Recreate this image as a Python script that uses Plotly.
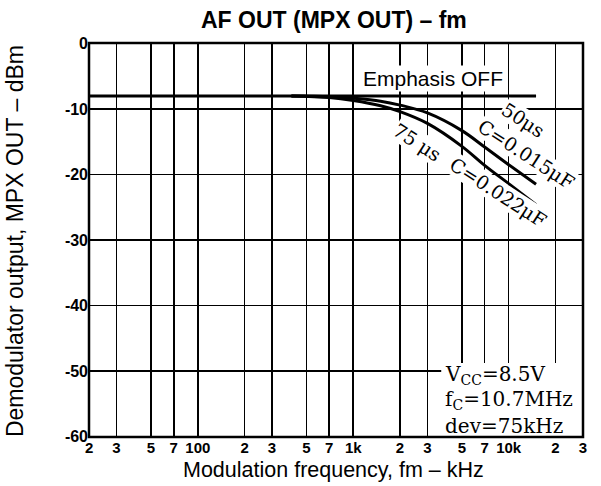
import math
import plotly.graph_objects as go

# ---------------- data ----------------
freq_off = [20, 15000]
db_off = [-8, -8]

freq_curve = [400, 700, 1000, 1500, 2000, 3000, 5000, 7000, 10000, 15000]
db_50us = [-8.0, -8.1, -8.35, -8.8, -9.4, -10.6, -13.3, -15.8, -18.5, -21.5]
db_75us = [-8.0, -8.25, -8.7, -9.5, -10.4, -12.2, -15.7, -18.6, -21.4, -24.6]

x_tickvals = [20, 30, 50, 70, 100, 200, 300, 500, 700, 1000,
              2000, 3000, 5000, 7000, 10000, 20000, 30000]
x_ticktext = ["2", "3", "5", "7", "100", "2", "3", "5", "7", "1k",
              "2", "3", "5", "7", "10k", "2", "3"]
y_tickvals = [0, -10, -20, -30, -40, -50, -60]
y_ticktext = ["0", "-10", "-20", "-30", "-40", "-50", "-60"]

title_text = "AF OUT (MPX OUT) – fm"
x_title = "Modulation frequency, fm – kHz"
y_title = "Demodulator output, MPX OUT – dBm"
cond_lines = ["V<sub>CC</sub>=8.5V", "f<sub>C</sub>=10.7MHz", "dev=75kHz"]

# ---------------- figure ----------------
fig = go.Figure()
fig.add_trace(go.Scatter(x=freq_off, y=db_off, mode="lines",
                         line=dict(color="black", width=3),
                         showlegend=False, hoverinfo="skip"))
fig.add_trace(go.Scatter(x=freq_curve, y=db_50us, mode="lines",
                         line=dict(color="black", width=3, shape="spline"),
                         showlegend=False, hoverinfo="skip"))
fig.add_trace(go.Scatter(x=freq_curve, y=db_75us, mode="lines",
                         line=dict(color="black", width=3, shape="spline"),
                         showlegend=False, hoverinfo="skip"))

sans = "Liberation Sans, Arial"
tickfont = dict(family=sans, size=15, color="black", weight="bold")
fig.update_xaxes(type="log",
                 range=[math.log10(20) - 0.001, math.log10(30000) + 0.001],
                 tickmode="array", tickvals=x_tickvals, ticktext=x_ticktext,
                 showgrid=True, gridcolor="black", gridwidth=1.6,
                 ticks="", tickfont=tickfont, zeroline=False, showline=False)
fig.update_yaxes(range=[-60.08, 0.08],
                 tickmode="array", tickvals=y_tickvals, ticktext=y_ticktext,
                 showgrid=True, gridcolor="black", gridwidth=1.6,
                 ticks="", tickfont=dict(family=sans, size=16, color="black", weight="bold"),
                 zeroline=False, showline=False)

shapes = [
    # white box behind the conditions text
    dict(type="rect", xref="x domain", yref="y domain", x0=0.713, x1=1.0,
         y0=0.0, y1=0.188, fillcolor="white", line=dict(width=0), layer="above"),
    # plot border
    dict(type="rect", xref="x domain", yref="y domain", x0=0, x1=1, y0=0, y1=1,
         line=dict(color="black", width=2.5), layer="above"),
]
fig.update_layout(shapes=shapes)

serif = "DejaVu Serif"
ann = []
ann.append(dict(x=math.log10(3260), y=-5.3, xref="x", yref="y", text="Emphasis OFF",
                xanchor="center", yanchor="middle",
                showarrow=False, font=dict(family=sans, size=21, color="black"),
                bgcolor="white", borderpad=1))
curve_labels = [
    ("50μs", 12400, -11.7),
    ("C=0.015μF", 12900, -16.9),
    ("75 μs", 2570, -15.1),
    ("C=0.022μF", 8500, -22.7),
]
for txt, fx, fy in curve_labels:
    ann.append(dict(x=math.log10(fx), y=fy, xref="x", yref="y", text=txt,
                    xanchor="center", yanchor="middle",
                    showarrow=False, textangle=33,
                    font=dict(family=serif, size=19, color="black"),
                    bgcolor="white", borderpad=0))
for i, line in enumerate(cond_lines):
    ann.append(dict(x=0.716, y=0.157 - i * 0.064, xref="paper", yref="paper",
                    xanchor="left", yanchor="middle", text=line, showarrow=False,
                    font=dict(family=serif, size=20, color="black")))
# titles
ann.append(dict(x=0.495, y=1.058, xref="paper", yref="paper", text="<b>" + title_text + "</b>",
                xanchor="center", yanchor="middle",
                showarrow=False, font=dict(family=sans, size=23, color="black")))
ann.append(dict(x=0.495, y=-0.084, xref="paper", yref="paper", text=x_title,
                xanchor="center", yanchor="middle",
                showarrow=False, font=dict(family=sans, size=21.5, color="black")))
ann.append(dict(x=-0.150, y=0.497, xref="paper", yref="paper", text=y_title, textangle=-90,
                xanchor="center", yanchor="middle",
                showarrow=False, font=dict(family=sans, size=23, color="black")))
fig.update_layout(annotations=ann)

fig.update_layout(width=601, height=486,
                  margin=dict(l=89, r=18, t=43, b=49, autoexpand=False),
                  paper_bgcolor="white", plot_bgcolor="white")

fig.write_html("out.html",
               config={"displayModeBar": False, "staticPlot": True},
               post_script="document.body.style.margin='0px';document.body.style.overflow='hidden';")
